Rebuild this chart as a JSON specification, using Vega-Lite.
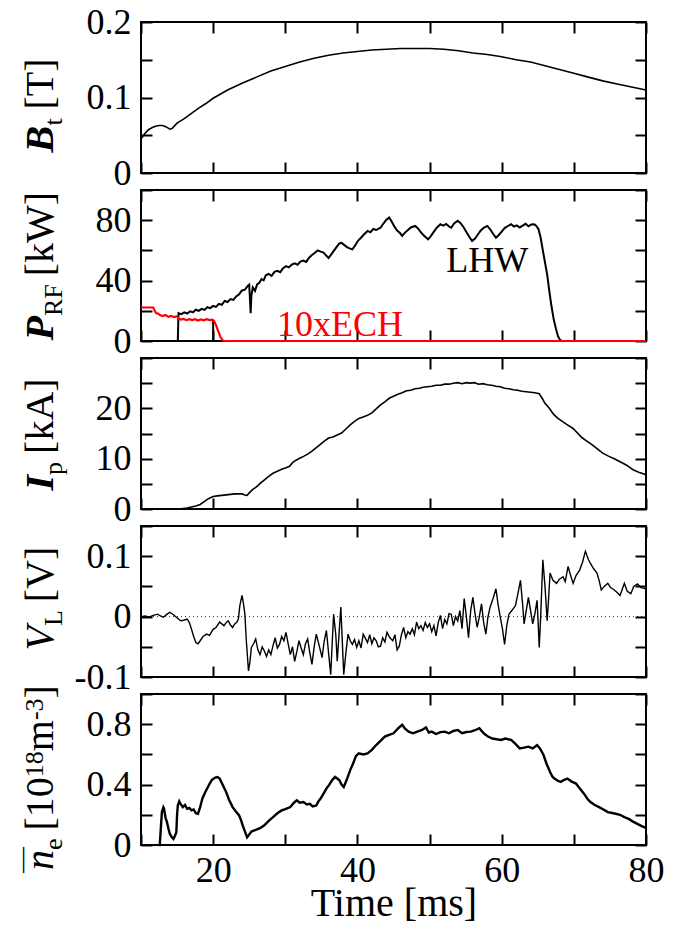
{
  "$schema": "https://vega.github.io/schema/vega-lite/v6.json",
  "padding": {"left": 7, "top": 3, "right": 5, "bottom": 5},
  "spacing": 17,
  "bounds": "flush",
  "datasets": {
    "bt": [{"t":10,"v":0.045},{"t":10.5,"v":0.052},{"t":11,"v":0.057},{"t":11.5,"v":0.06},{"t":12,"v":0.062},{"t":12.5,"v":0.063},{"t":13,"v":0.063},{"t":13.5,"v":0.061},{"t":14,"v":0.058},{"t":14.3,"v":0.059},{"t":15,"v":0.066},{"t":16,"v":0.072},{"t":17,"v":0.079},{"t":18,"v":0.086},{"t":19,"v":0.092},{"t":20,"v":0.099},{"t":22,"v":0.11},{"t":24,"v":0.119},{"t":26,"v":0.127},{"t":28,"v":0.135},{"t":30,"v":0.141},{"t":32,"v":0.147},{"t":34,"v":0.152},{"t":36,"v":0.156},{"t":38,"v":0.159},{"t":40,"v":0.161},{"t":42,"v":0.163},{"t":44,"v":0.164},{"t":46,"v":0.165},{"t":48,"v":0.165},{"t":50,"v":0.165},{"t":52,"v":0.164},{"t":54,"v":0.162},{"t":56,"v":0.159},{"t":58,"v":0.157},{"t":60,"v":0.154},{"t":62,"v":0.15},{"t":64,"v":0.147},{"t":66,"v":0.142},{"t":68,"v":0.137},{"t":70,"v":0.132},{"t":72,"v":0.127},{"t":74,"v":0.122},{"t":76,"v":0.118},{"t":78,"v":0.114},{"t":80,"v":0.11}],
    "lhw": [{"s":"LHW","t":10,"v":0},{"s":"LHW","t":15.1,"v":0},{"s":"LHW","t":15.2,"v":18.4},{"s":"LHW","t":15.6,"v":17.8},{"s":"LHW","t":16,"v":19},{"s":"LHW","t":16.4,"v":18.2},{"s":"LHW","t":16.8,"v":19.6},{"s":"LHW","t":17.2,"v":19},{"s":"LHW","t":17.6,"v":20.7},{"s":"LHW","t":18,"v":20},{"s":"LHW","t":18.4,"v":21.3},{"s":"LHW","t":18.8,"v":20.6},{"s":"LHW","t":19.2,"v":22.4},{"s":"LHW","t":19.6,"v":21.8},{"s":"LHW","t":20,"v":23.2},{"s":"LHW","t":20.4,"v":22.6},{"s":"LHW","t":20.8,"v":24.6},{"s":"LHW","t":21.2,"v":24},{"s":"LHW","t":21.6,"v":26.5},{"s":"LHW","t":22,"v":25.8},{"s":"LHW","t":22.4,"v":27.8},{"s":"LHW","t":22.8,"v":27.2},{"s":"LHW","t":23.2,"v":29.5},{"s":"LHW","t":23.6,"v":31},{"s":"LHW","t":24,"v":33.5},{"s":"LHW","t":24.4,"v":34},{"s":"LHW","t":24.8,"v":36.5},{"s":"LHW","t":25,"v":37.3},{"s":"LHW","t":25.1,"v":28},{"s":"LHW","t":25.2,"v":18.4},{"s":"LHW","t":25.3,"v":30},{"s":"LHW","t":25.5,"v":35.5},{"s":"LHW","t":25.8,"v":33.2},{"s":"LHW","t":26.1,"v":37.5},{"s":"LHW","t":26.4,"v":38.6},{"s":"LHW","t":26.7,"v":41},{"s":"LHW","t":27,"v":40.2},{"s":"LHW","t":27.3,"v":43.5},{"s":"LHW","t":27.7,"v":44.5},{"s":"LHW","t":28.1,"v":43.2},{"s":"LHW","t":28.5,"v":45.8},{"s":"LHW","t":28.9,"v":46.5},{"s":"LHW","t":29.3,"v":45.6},{"s":"LHW","t":29.7,"v":48.2},{"s":"LHW","t":30.1,"v":49.6},{"s":"LHW","t":30.5,"v":48.8},{"s":"LHW","t":30.9,"v":50.6},{"s":"LHW","t":31.3,"v":51.4},{"s":"LHW","t":31.7,"v":50.5},{"s":"LHW","t":32.1,"v":52.6},{"s":"LHW","t":32.5,"v":53.3},{"s":"LHW","t":32.9,"v":52.4},{"s":"LHW","t":33.3,"v":55.2},{"s":"LHW","t":33.7,"v":57},{"s":"LHW","t":34.1,"v":58.4},{"s":"LHW","t":34.5,"v":60},{"s":"LHW","t":34.9,"v":59.2},{"s":"LHW","t":35.3,"v":58.6},{"s":"LHW","t":35.7,"v":56.4},{"s":"LHW","t":36,"v":55},{"s":"LHW","t":36.4,"v":57.5},{"s":"LHW","t":36.8,"v":60.2},{"s":"LHW","t":37.2,"v":62.8},{"s":"LHW","t":37.5,"v":64.6},{"s":"LHW","t":37.8,"v":65},{"s":"LHW","t":38.2,"v":63.5},{"s":"LHW","t":38.6,"v":62},{"s":"LHW","t":39,"v":61.2},{"s":"LHW","t":39.3,"v":60.7},{"s":"LHW","t":39.7,"v":63.4},{"s":"LHW","t":40.1,"v":66.5},{"s":"LHW","t":40.5,"v":68.4},{"s":"LHW","t":40.9,"v":70.5},{"s":"LHW","t":41.4,"v":72.9},{"s":"LHW","t":41.8,"v":72},{"s":"LHW","t":42.2,"v":74.2},{"s":"LHW","t":42.6,"v":73.5},{"s":"LHW","t":43.2,"v":75},{"s":"LHW","t":43.6,"v":77.8},{"s":"LHW","t":44,"v":80.2},{"s":"LHW","t":44.4,"v":81.8},{"s":"LHW","t":44.7,"v":79.5},{"s":"LHW","t":45.1,"v":76},{"s":"LHW","t":45.5,"v":73.2},{"s":"LHW","t":45.9,"v":71.5},{"s":"LHW","t":46.2,"v":69.6},{"s":"LHW","t":46.6,"v":71.8},{"s":"LHW","t":47,"v":73.5},{"s":"LHW","t":47.4,"v":75.2},{"s":"LHW","t":48,"v":76.2},{"s":"LHW","t":48.4,"v":74.5},{"s":"LHW","t":48.8,"v":72},{"s":"LHW","t":49.2,"v":69.8},{"s":"LHW","t":49.8,"v":67.3},{"s":"LHW","t":50.2,"v":69.6},{"s":"LHW","t":50.6,"v":72.4},{"s":"LHW","t":51,"v":75},{"s":"LHW","t":51.5,"v":77.3},{"s":"LHW","t":51.9,"v":76.4},{"s":"LHW","t":52.3,"v":77.5},{"s":"LHW","t":52.7,"v":75.8},{"s":"LHW","t":53,"v":75},{"s":"LHW","t":53.4,"v":77.8},{"s":"LHW","t":53.9,"v":79.6},{"s":"LHW","t":54.3,"v":78},{"s":"LHW","t":54.7,"v":75.5},{"s":"LHW","t":55.1,"v":72.2},{"s":"LHW","t":55.5,"v":69},{"s":"LHW","t":55.9,"v":66.2},{"s":"LHW","t":56.3,"v":67.8},{"s":"LHW","t":56.7,"v":70.5},{"s":"LHW","t":57.1,"v":73.2},{"s":"LHW","t":57.5,"v":75},{"s":"LHW","t":58,"v":76.2},{"s":"LHW","t":58.4,"v":74},{"s":"LHW","t":58.8,"v":71},{"s":"LHW","t":59.2,"v":68.4},{"s":"LHW","t":59.6,"v":70.2},{"s":"LHW","t":60,"v":72.5},{"s":"LHW","t":60.4,"v":74.8},{"s":"LHW","t":60.8,"v":76},{"s":"LHW","t":61.3,"v":77.3},{"s":"LHW","t":61.7,"v":75.8},{"s":"LHW","t":62.1,"v":76.6},{"s":"LHW","t":62.5,"v":75.2},{"s":"LHW","t":62.9,"v":76.4},{"s":"LHW","t":63.3,"v":77.6},{"s":"LHW","t":63.7,"v":76},{"s":"LHW","t":64.1,"v":77.2},{"s":"LHW","t":64.5,"v":77.3},{"s":"LHW","t":64.8,"v":76.2},{"s":"LHW","t":65.1,"v":74},{"s":"LHW","t":65.4,"v":68.4},{"s":"LHW","t":65.7,"v":60},{"s":"LHW","t":66,"v":52},{"s":"LHW","t":66.3,"v":44},{"s":"LHW","t":66.6,"v":33},{"s":"LHW","t":66.9,"v":23},{"s":"LHW","t":67.2,"v":14.5},{"s":"LHW","t":67.5,"v":8.4},{"s":"LHW","t":67.8,"v":3.2},{"s":"LHW","t":68.1,"v":0.5},{"s":"LHW","t":68.4,"v":0},{"s":"LHW","t":80,"v":0},{"s":"edge","t":20,"v":0},{"s":"edge","t":20,"v":13.8}],
    "ech": [{"t":10,"v":22.2},{"t":11.7,"v":22.2},{"t":11.9,"v":20},{"t":12.1,"v":18.5},{"t":12.4,"v":18},{"t":12.7,"v":17},{"t":13,"v":16.5},{"t":13.4,"v":17.2},{"t":13.8,"v":16},{"t":14.2,"v":16.6},{"t":14.6,"v":15.8},{"t":15,"v":16.4},{"t":15.2,"v":15},{"t":15.5,"v":14.2},{"t":15.9,"v":14.6},{"t":16.3,"v":13.8},{"t":16.7,"v":14.5},{"t":17.1,"v":13.9},{"t":17.5,"v":14.4},{"t":17.9,"v":13.6},{"t":18.3,"v":14.3},{"t":18.7,"v":13.7},{"t":19.1,"v":14.4},{"t":19.5,"v":13.8},{"t":19.9,"v":14.2},{"t":20.1,"v":13.5},{"t":20.4,"v":10.5},{"t":20.7,"v":6.5},{"t":21,"v":2.8},{"t":21.3,"v":0.5},{"t":21.5,"v":0},{"t":80,"v":0}],
    "ip": [{"t":10,"v":0},{"t":15.2,"v":0},{"t":15.8,"v":0.1},{"t":16.4,"v":0.2},{"t":17,"v":0.4},{"t":17.6,"v":0.6},{"t":18.2,"v":0.9},{"t":18.8,"v":1.5},{"t":19.4,"v":2.1},{"t":20,"v":2.5},{"t":20.6,"v":2.6},{"t":21.2,"v":2.7},{"t":21.8,"v":2.8},{"t":22.4,"v":2.9},{"t":23,"v":3},{"t":23.6,"v":3},{"t":24,"v":3},{"t":24.4,"v":2.8},{"t":24.7,"v":2.7},{"t":25,"v":3.2},{"t":25.5,"v":3.9},{"t":26,"v":4.4},{"t":26.6,"v":5.2},{"t":27.2,"v":5.9},{"t":27.7,"v":6.5},{"t":28.3,"v":7.1},{"t":28.9,"v":7.5},{"t":29.5,"v":7.9},{"t":30.1,"v":8.2},{"t":30.6,"v":8.5},{"t":31,"v":9.2},{"t":31.5,"v":9.7},{"t":32,"v":10.1},{"t":32.6,"v":10.5},{"t":33.2,"v":11},{"t":33.7,"v":11.5},{"t":34.3,"v":12.2},{"t":34.9,"v":12.9},{"t":35.5,"v":13.6},{"t":36,"v":14.1},{"t":36.6,"v":14.3},{"t":37.2,"v":14.7},{"t":37.8,"v":15.1},{"t":38.4,"v":15.9},{"t":39,"v":16.7},{"t":39.6,"v":17.4},{"t":40.2,"v":18},{"t":40.8,"v":18.3},{"t":41.4,"v":18.6},{"t":42,"v":19.1},{"t":42.6,"v":19.9},{"t":43.2,"v":20.7},{"t":43.8,"v":21.3},{"t":44.4,"v":22},{"t":45,"v":22.4},{"t":45.6,"v":22.8},{"t":46.2,"v":23.1},{"t":46.8,"v":23.5},{"t":47.4,"v":23.6},{"t":48,"v":23.9},{"t":48.6,"v":24},{"t":49.1,"v":24.2},{"t":49.7,"v":24.3},{"t":50.3,"v":24.4},{"t":50.9,"v":24.6},{"t":51.5,"v":24.6},{"t":52.1,"v":24.8},{"t":52.7,"v":24.8},{"t":53.3,"v":25},{"t":53.9,"v":25.1},{"t":54.5,"v":24.9},{"t":55.1,"v":25.1},{"t":55.6,"v":25},{"t":56.2,"v":25.1},{"t":56.8,"v":24.8},{"t":57.4,"v":24.9},{"t":58,"v":24.7},{"t":58.6,"v":24.6},{"t":59.2,"v":24.4},{"t":59.8,"v":24.3},{"t":60.4,"v":24},{"t":61,"v":23.9},{"t":61.6,"v":23.7},{"t":62.2,"v":23.6},{"t":62.8,"v":23.4},{"t":63.4,"v":23.3},{"t":64,"v":23.2},{"t":64.6,"v":23.1},{"t":65.2,"v":22.9},{"t":65.6,"v":22},{"t":66,"v":21},{"t":66.6,"v":20},{"t":67.2,"v":18.8},{"t":67.8,"v":18},{"t":68.4,"v":17.4},{"t":69,"v":16.8},{"t":69.9,"v":16},{"t":70.5,"v":15.1},{"t":71.1,"v":14.2},{"t":71.9,"v":13.4},{"t":72.6,"v":12.7},{"t":73.3,"v":11.9},{"t":74,"v":11.1},{"t":74.8,"v":10.5},{"t":75.6,"v":10},{"t":76.4,"v":9.4},{"t":77.2,"v":8.8},{"t":78.2,"v":7.8},{"t":79,"v":7.3},{"t":80,"v":6.8}],
    "vl": [{"t":10,"v":0},{"t":10.6,"v":0.001},{"t":11.1,"v":-0.001},{"t":11.7,"v":0.002},{"t":12.3,"v":0.004},{"t":12.7,"v":0.001},{"t":13.1,"v":-0.001},{"t":13.6,"v":0.004},{"t":14,"v":0.007},{"t":14.5,"v":0.003},{"t":14.9,"v":-0.001},{"t":15.2,"v":-0.004},{"t":15.5,"v":-0.007},{"t":15.9,"v":-0.006},{"t":16.4,"v":-0.004},{"t":16.7,"v":-0.01},{"t":17,"v":-0.021},{"t":17.3,"v":-0.033},{"t":17.6,"v":-0.043},{"t":17.9,"v":-0.045},{"t":18.2,"v":-0.04},{"t":18.6,"v":-0.033},{"t":19.1,"v":-0.029},{"t":19.5,"v":-0.031},{"t":20,"v":-0.021},{"t":20.4,"v":-0.018},{"t":20.9,"v":-0.009},{"t":21.2,"v":-0.012},{"t":21.5,"v":-0.015},{"t":21.8,"v":-0.01},{"t":22.1,"v":-0.007},{"t":22.4,"v":-0.014},{"t":22.7,"v":-0.018},{"t":23,"v":-0.012},{"t":23.3,"v":-0.009},{"t":23.5,"v":-0.004},{"t":23.7,"v":0.018},{"t":24,"v":0.035},{"t":24.2,"v":0.022},{"t":24.4,"v":0.004},{"t":24.6,"v":-0.04},{"t":24.9,"v":-0.09},{"t":25.1,"v":-0.075},{"t":25.3,"v":-0.051},{"t":25.6,"v":-0.045},{"t":25.9,"v":-0.037},{"t":26.2,"v":-0.055},{"t":26.5,"v":-0.063},{"t":26.8,"v":-0.05},{"t":27.1,"v":-0.057},{"t":27.4,"v":-0.066},{"t":27.7,"v":-0.055},{"t":28,"v":-0.063},{"t":28.3,"v":-0.048},{"t":28.6,"v":-0.035},{"t":28.9,"v":-0.052},{"t":29.2,"v":-0.046},{"t":29.5,"v":-0.033},{"t":29.8,"v":-0.04},{"t":30.1,"v":-0.026},{"t":30.4,"v":-0.045},{"t":30.7,"v":-0.063},{"t":31,"v":-0.05},{"t":31.3,"v":-0.074},{"t":31.6,"v":-0.058},{"t":31.9,"v":-0.04},{"t":32.2,"v":-0.052},{"t":32.5,"v":-0.063},{"t":32.8,"v":-0.045},{"t":33.1,"v":-0.037},{"t":33.4,"v":-0.06},{"t":33.7,"v":-0.079},{"t":34,"v":-0.05},{"t":34.3,"v":-0.029},{"t":34.7,"v":-0.048},{"t":35.1,"v":-0.068},{"t":35.4,"v":-0.04},{"t":35.7,"v":-0.023},{"t":36,"v":-0.06},{"t":36.3,"v":-0.096},{"t":36.5,"v":-0.045},{"t":36.7,"v":0.004},{"t":37,"v":-0.03},{"t":37.2,"v":-0.074},{"t":37.5,"v":-0.02},{"t":37.7,"v":0.016},{"t":37.9,"v":-0.04},{"t":38.1,"v":-0.096},{"t":38.4,"v":-0.06},{"t":38.7,"v":-0.029},{"t":39,"v":-0.04},{"t":39.3,"v":-0.046},{"t":39.6,"v":-0.038},{"t":39.9,"v":-0.051},{"t":40.2,"v":-0.04},{"t":40.5,"v":-0.052},{"t":40.8,"v":-0.029},{"t":41.1,"v":-0.036},{"t":41.4,"v":-0.043},{"t":41.7,"v":-0.03},{"t":42,"v":-0.045},{"t":42.3,"v":-0.035},{"t":42.6,"v":-0.04},{"t":42.9,"v":-0.05},{"t":43.2,"v":-0.049},{"t":43.5,"v":-0.035},{"t":43.8,"v":-0.042},{"t":44.1,"v":-0.026},{"t":44.5,"v":-0.035},{"t":44.9,"v":-0.04},{"t":45.2,"v":-0.03},{"t":45.5,"v":-0.055},{"t":45.8,"v":-0.049},{"t":46.1,"v":-0.03},{"t":46.4,"v":-0.018},{"t":46.7,"v":-0.035},{"t":47,"v":-0.025},{"t":47.3,"v":-0.029},{"t":47.6,"v":-0.02},{"t":47.9,"v":-0.03},{"t":48.2,"v":-0.009},{"t":48.5,"v":-0.02},{"t":48.8,"v":-0.015},{"t":49.1,"v":-0.023},{"t":49.4,"v":-0.01},{"t":49.7,"v":-0.018},{"t":50,"v":-0.012},{"t":50.3,"v":-0.025},{"t":50.6,"v":-0.015},{"t":50.9,"v":-0.032},{"t":51.2,"v":-0.01},{"t":51.5,"v":0.002},{"t":51.8,"v":-0.02},{"t":52.1,"v":-0.005},{"t":52.4,"v":-0.012},{"t":52.7,"v":0.005},{"t":53,"v":0.004},{"t":53.3,"v":-0.015},{"t":53.6,"v":0},{"t":53.9,"v":-0.007},{"t":54.2,"v":0.01},{"t":54.5,"v":-0.02},{"t":54.8,"v":0.03},{"t":55.1,"v":0},{"t":55.4,"v":-0.035},{"t":55.7,"v":0.01},{"t":56,"v":0.032},{"t":56.3,"v":0.005},{"t":56.6,"v":-0.018},{"t":56.9,"v":0},{"t":57.2,"v":0.021},{"t":57.5,"v":-0.01},{"t":57.8,"v":-0.029},{"t":58.1,"v":0},{"t":58.4,"v":0.016},{"t":58.8,"v":0.03},{"t":59.2,"v":0.046},{"t":59.5,"v":0.02},{"t":59.8,"v":-0.001},{"t":60.1,"v":-0.02},{"t":60.4,"v":-0.046},{"t":60.7,"v":-0.015},{"t":61,"v":0.004},{"t":61.4,"v":0.01},{"t":61.9,"v":0.018},{"t":62.2,"v":0.035},{"t":62.6,"v":0.06},{"t":62.9,"v":0.02},{"t":63.1,"v":-0.012},{"t":63.4,"v":0.01},{"t":63.7,"v":0.032},{"t":64,"v":0.01},{"t":64.3,"v":-0.012},{"t":64.6,"v":0.005},{"t":64.9,"v":0.027},{"t":65.05,"v":-0.01},{"t":65.2,"v":-0.051},{"t":65.4,"v":0},{"t":65.7,"v":0.094},{"t":66,"v":0.05},{"t":66.3,"v":-0.007},{"t":66.5,"v":0.03},{"t":66.7,"v":0.072},{"t":67.1,"v":0.06},{"t":67.6,"v":0.055},{"t":68,"v":0.062},{"t":68.5,"v":0.066},{"t":68.8,"v":0.058},{"t":69.2,"v":0.083},{"t":69.5,"v":0.07},{"t":69.9,"v":0.055},{"t":70.3,"v":0.068},{"t":70.8,"v":0.077},{"t":71.2,"v":0.09},{"t":71.6,"v":0.108},{"t":72,"v":0.095},{"t":72.3,"v":0.088},{"t":72.7,"v":0.08},{"t":73.2,"v":0.072},{"t":73.5,"v":0.06},{"t":73.8,"v":0.044},{"t":74.2,"v":0.05},{"t":74.7,"v":0.055},{"t":75.1,"v":0.048},{"t":75.6,"v":0.044},{"t":76,"v":0.04},{"t":76.4,"v":0.035},{"t":76.7,"v":0.045},{"t":77,"v":0.055},{"t":77.4,"v":0.042},{"t":77.9,"v":0.038},{"t":78.3,"v":0.05},{"t":78.8,"v":0.054},{"t":79.3,"v":0.048},{"t":80,"v":0.046}],
    "ne": [{"t":12.5,"v":0},{"t":12.6,"v":0},{"t":12.8,"v":0.15},{"t":12.9,"v":0.218},{"t":13.1,"v":0.25},{"t":13.2,"v":0.24},{"t":13.4,"v":0.18},{"t":13.6,"v":0.151},{"t":13.8,"v":0.11},{"t":14,"v":0.073},{"t":14.3,"v":0.05},{"t":14.5,"v":0.04},{"t":14.7,"v":0.06},{"t":14.9,"v":0.084},{"t":15,"v":0.2},{"t":15.1,"v":0.262},{"t":15.3,"v":0.289},{"t":15.5,"v":0.27},{"t":15.8,"v":0.251},{"t":16.1,"v":0.265},{"t":16.4,"v":0.24},{"t":16.7,"v":0.245},{"t":17,"v":0.229},{"t":17.3,"v":0.235},{"t":17.6,"v":0.21},{"t":17.9,"v":0.207},{"t":18.2,"v":0.25},{"t":18.5,"v":0.307},{"t":18.9,"v":0.35},{"t":19.4,"v":0.396},{"t":19.8,"v":0.43},{"t":20.3,"v":0.447},{"t":20.6,"v":0.45},{"t":20.9,"v":0.44},{"t":21.3,"v":0.4},{"t":21.8,"v":0.351},{"t":22.2,"v":0.3},{"t":22.7,"v":0.251},{"t":23.1,"v":0.225},{"t":23.6,"v":0.196},{"t":23.9,"v":0.16},{"t":24.1,"v":0.129},{"t":24.4,"v":0.09},{"t":24.7,"v":0.051},{"t":25,"v":0.07},{"t":25.3,"v":0.089},{"t":25.9,"v":0.1},{"t":26.5,"v":0.111},{"t":27.1,"v":0.13},{"t":27.7,"v":0.16},{"t":28.3,"v":0.184},{"t":28.9,"v":0.21},{"t":29.5,"v":0.229},{"t":30.1,"v":0.24},{"t":30.7,"v":0.251},{"t":31.2,"v":0.28},{"t":31.6,"v":0.296},{"t":32,"v":0.28},{"t":32.5,"v":0.284},{"t":33,"v":0.268},{"t":33.4,"v":0.273},{"t":33.8,"v":0.255},{"t":34.3,"v":0.262},{"t":34.6,"v":0.29},{"t":34.9,"v":0.307},{"t":35.3,"v":0.34},{"t":35.7,"v":0.373},{"t":36.1,"v":0.4},{"t":36.5,"v":0.43},{"t":36.9,"v":0.451},{"t":37.2,"v":0.44},{"t":37.5,"v":0.429},{"t":37.8,"v":0.4},{"t":38.1,"v":0.384},{"t":38.5,"v":0.43},{"t":39,"v":0.496},{"t":39.4,"v":0.54},{"t":39.8,"v":0.59},{"t":40.2,"v":0.607},{"t":40.8,"v":0.6},{"t":41.4,"v":0.607},{"t":42,"v":0.63},{"t":42.6,"v":0.662},{"t":43.2,"v":0.69},{"t":43.8,"v":0.718},{"t":44.4,"v":0.73},{"t":45,"v":0.74},{"t":45.6,"v":0.77},{"t":46.2,"v":0.796},{"t":46.6,"v":0.77},{"t":47.1,"v":0.751},{"t":47.7,"v":0.74},{"t":48.3,"v":0.751},{"t":48.9,"v":0.76},{"t":49.5,"v":0.778},{"t":49.9,"v":0.745},{"t":50.3,"v":0.751},{"t":50.9,"v":0.735},{"t":51.5,"v":0.748},{"t":52.1,"v":0.751},{"t":52.7,"v":0.74},{"t":53.3,"v":0.755},{"t":53.9,"v":0.762},{"t":54.5,"v":0.74},{"t":55.1,"v":0.748},{"t":55.7,"v":0.751},{"t":56.3,"v":0.76},{"t":56.9,"v":0.773},{"t":57.5,"v":0.74},{"t":58.1,"v":0.718},{"t":58.7,"v":0.705},{"t":59.3,"v":0.7},{"t":59.9,"v":0.696},{"t":60.5,"v":0.705},{"t":61.3,"v":0.696},{"t":61.9,"v":0.67},{"t":62.5,"v":0.64},{"t":63.1,"v":0.645},{"t":63.7,"v":0.651},{"t":64.3,"v":0.64},{"t":64.9,"v":0.662},{"t":65.3,"v":0.64},{"t":65.8,"v":0.596},{"t":66.2,"v":0.54},{"t":66.7,"v":0.484},{"t":67,"v":0.455},{"t":67.3,"v":0.44},{"t":67.8,"v":0.425},{"t":68.2,"v":0.418},{"t":68.6,"v":0.43},{"t":69.1,"v":0.44},{"t":69.7,"v":0.42},{"t":70.3,"v":0.407},{"t":70.8,"v":0.375},{"t":71.4,"v":0.34},{"t":71.9,"v":0.305},{"t":72.3,"v":0.284},{"t":72.9,"v":0.265},{"t":73.5,"v":0.251},{"t":74.1,"v":0.235},{"t":74.7,"v":0.218},{"t":75.5,"v":0.21},{"t":76.4,"v":0.2},{"t":77,"v":0.185},{"t":77.6,"v":0.173},{"t":78.2,"v":0.155},{"t":78.8,"v":0.14},{"t":79.4,"v":0.125},{"t":80,"v":0.113}]
  },
  "vconcat": [
    {
      "width": 505, "height": 151,
      "data": {"name": "bt"},
      "layer": [
        {"mark": {"type": "line", "color": "black", "strokeWidth": 1.6},
         "encoding": {
           "x": {"field": "t", "type": "quantitative", "scale": {"domain": [10, 80], "nice": false, "zero": false}, "axis": null},
           "y": {"field": "v", "type": "quantitative", "scale": {"domain": [0, 0.2], "nice": false, "zero": false},
                 "axis": {"orient": "left", "values": [0, 0.1, 0.2], "labelExpr": "format(datum.value, '~r')", "ticks": false, "tickSize": 0, "labelPadding": 10,
                          "title": "B", "titleFontStyle": "italic", "titleFontWeight": "bold", "titleX": -89, "titleY": 130}}}},
        {"mark": {"type": "point", "opacity": 0},
         "encoding": {
           "x": {"aggregate": "min", "field": "t", "type": "quantitative", "scale": {"domain": [10, 80], "nice": false, "zero": false},
                 "axis": {"orient": "bottom", "values": [10, 20, 30, 40, 50, 60, 70, 80], "labels": false, "tickSize": -11, "title": null}},
           "y": {"aggregate": "min", "field": "v", "type": "quantitative", "scale": {"domain": [0, 0.2], "nice": false, "zero": false},
                 "axis": {"orient": "left", "values": [0, 0.05, 0.1, 0.15, 0.2], "labels": false, "tickSize": -11,
                          "title": "t", "titleFontSize": 26, "titleX": -80, "titleY": 103}}}},
        {"mark": {"type": "point", "opacity": 0},
         "encoding": {
           "x": {"aggregate": "max", "field": "t", "type": "quantitative", "scale": {"domain": [10, 80], "nice": false, "zero": false},
                 "axis": {"orient": "top", "values": [10, 20, 30, 40, 50, 60, 70, 80], "labels": false, "tickSize": -11, "title": null}},
           "y": {"aggregate": "max", "field": "v", "type": "quantitative", "scale": {"domain": [0, 0.2], "nice": false, "zero": false},
                 "axis": {"orient": "right", "values": [0, 0.05, 0.1, 0.15, 0.2], "labels": false, "tickSize": -11, "title": null}}}},
        {"mark": {"type": "point", "opacity": 0},
         "encoding": {
           "y": {"aggregate": "min", "field": "v", "type": "quantitative", "scale": {"domain": [0, 0.2], "nice": false, "zero": false},
                 "axis": {"orient": "left", "labels": false, "ticks": false, "title": "[T]", "titleX": -89, "titleY": 87}}}}
      ],
      "resolve": {"axis": {"x": "independent", "y": "independent"}}
    },
    {
      "width": 505, "height": 151,
      "layer": [
        {"data": {"name": "lhw"},
         "mark": {"type": "line", "color": "black", "strokeWidth": 2},
         "encoding": {
           "x": {"field": "t", "type": "quantitative", "scale": {"domain": [10, 80], "nice": false, "zero": false}, "axis": null},
           "y": {"field": "v", "type": "quantitative", "scale": {"domain": [0, 100], "nice": false, "zero": false},
                 "axis": {"orient": "left", "values": [0, 40, 80], "labelExpr": "format(datum.value, '~r')", "ticks": false, "tickSize": 0, "labelPadding": 10,
                          "title": "P", "titleFontStyle": "italic", "titleFontWeight": "bold", "titleX": -89, "titleY": 150}},
           "detail": {"field": "s", "type": "nominal"}}},
        {"data": {"name": "ech"},
         "mark": {"type": "line", "color": "#ff0000", "strokeWidth": 2.2},
         "encoding": {
           "x": {"field": "t", "type": "quantitative", "scale": {"domain": [10, 80], "nice": false, "zero": false}, "axis": null},
           "y": {"field": "v", "type": "quantitative", "scale": {"domain": [0, 100], "nice": false, "zero": false}, "axis": null}}},
        {"data": {"name": "lhw"},
         "mark": {"type": "point", "opacity": 0},
         "encoding": {
           "x": {"aggregate": "min", "field": "t", "type": "quantitative", "scale": {"domain": [10, 80], "nice": false, "zero": false},
                 "axis": {"orient": "bottom", "values": [10, 20, 30, 40, 50, 60, 70, 80], "labels": false, "tickSize": -11, "title": null}},
           "y": {"aggregate": "min", "field": "v", "type": "quantitative", "scale": {"domain": [0, 100], "nice": false, "zero": false},
                 "axis": {"orient": "left", "values": [0, 20, 40, 60, 80, 100], "labels": false, "tickSize": -11,
                          "title": "RF", "titleFontSize": 26, "titleX": -80, "titleY": 125.6}}}},
        {"data": {"name": "lhw"},
         "mark": {"type": "point", "opacity": 0},
         "encoding": {
           "x": {"aggregate": "max", "field": "t", "type": "quantitative", "scale": {"domain": [10, 80], "nice": false, "zero": false},
                 "axis": {"orient": "top", "values": [10, 20, 30, 40, 50, 60, 70, 80], "labels": false, "tickSize": -11, "title": null}},
           "y": {"aggregate": "max", "field": "v", "type": "quantitative", "scale": {"domain": [0, 100], "nice": false, "zero": false},
                 "axis": {"orient": "right", "values": [0, 20, 40, 60, 80, 100], "labels": false, "tickSize": -11, "title": null}}}},
        {"data": {"name": "lhw"},
         "mark": {"type": "point", "opacity": 0},
         "encoding": {
           "y": {"aggregate": "min", "field": "v", "type": "quantitative", "scale": {"domain": [0, 100], "nice": false, "zero": false},
                 "axis": {"orient": "left", "labels": false, "ticks": false, "title": "[kW]", "titleX": -89, "titleY": 85.8}}}},
        {"data": {"values": [{}]},
         "mark": {"type": "text", "text": "LHW", "font": "Liberation Serif", "fontSize": 36, "color": "black", "align": "center", "baseline": "middle"},
         "encoding": {
           "x": {"datum": 58, "type": "quantitative", "scale": {"domain": [10, 80], "nice": false, "zero": false}, "axis": null},
           "y": {"datum": 53, "type": "quantitative", "scale": {"domain": [0, 100], "nice": false, "zero": false}, "axis": null}}},
        {"data": {"values": [{}]},
         "mark": {"type": "text", "text": "10xECH", "font": "Liberation Serif", "fontSize": 36, "color": "#ff0000", "align": "center", "baseline": "middle"},
         "encoding": {
           "x": {"datum": 37.6, "type": "quantitative", "scale": {"domain": [10, 80], "nice": false, "zero": false}, "axis": null},
           "y": {"datum": 10.7, "type": "quantitative", "scale": {"domain": [0, 100], "nice": false, "zero": false}, "axis": null}}}
      ],
      "resolve": {"axis": {"x": "independent", "y": "independent"}}
    },
    {
      "width": 505, "height": 151,
      "data": {"name": "ip"},
      "layer": [
        {"mark": {"type": "line", "color": "black", "strokeWidth": 1.6},
         "encoding": {
           "x": {"field": "t", "type": "quantitative", "scale": {"domain": [10, 80], "nice": false, "zero": false}, "axis": null},
           "y": {"field": "v", "type": "quantitative", "scale": {"domain": [0, 30], "nice": false, "zero": false},
                 "axis": {"orient": "left", "values": [0, 10, 20], "labelExpr": "format(datum.value, '~r')", "ticks": false, "tickSize": 0, "labelPadding": 10,
                          "title": "I", "titleFontStyle": "italic", "titleFontWeight": "bold", "titleX": -89, "titleY": 132}}}},
        {"mark": {"type": "point", "opacity": 0},
         "encoding": {
           "x": {"aggregate": "min", "field": "t", "type": "quantitative", "scale": {"domain": [10, 80], "nice": false, "zero": false},
                 "axis": {"orient": "bottom", "values": [10, 20, 30, 40, 50, 60, 70, 80], "labels": false, "tickSize": -11, "title": null}},
           "y": {"aggregate": "min", "field": "v", "type": "quantitative", "scale": {"domain": [0, 30], "nice": false, "zero": false},
                 "axis": {"orient": "left", "values": [0, 5, 10, 15, 20, 25, 30], "labels": false, "tickSize": -11,
                          "title": "p", "titleFontSize": 26, "titleX": -80, "titleY": 116.4}}}},
        {"mark": {"type": "point", "opacity": 0},
         "encoding": {
           "x": {"aggregate": "max", "field": "t", "type": "quantitative", "scale": {"domain": [10, 80], "nice": false, "zero": false},
                 "axis": {"orient": "top", "values": [10, 20, 30, 40, 50, 60, 70, 80], "labels": false, "tickSize": -11, "title": null}},
           "y": {"aggregate": "max", "field": "v", "type": "quantitative", "scale": {"domain": [0, 30], "nice": false, "zero": false},
                 "axis": {"orient": "right", "values": [0, 5, 10, 15, 20, 25, 30], "labels": false, "tickSize": -11, "title": null}}}},
        {"mark": {"type": "point", "opacity": 0},
         "encoding": {
           "y": {"aggregate": "min", "field": "v", "type": "quantitative", "scale": {"domain": [0, 30], "nice": false, "zero": false},
                 "axis": {"orient": "left", "labels": false, "ticks": false, "title": "[kA]", "titleX": -89, "titleY": 95.4}}}}
      ],
      "resolve": {"axis": {"x": "independent", "y": "independent"}}
    },
    {
      "width": 505, "height": 151,
      "data": {"name": "vl"},
      "layer": [
        {"data": {"values": [{}]},
         "mark": {"type": "rule", "color": "black", "strokeWidth": 0.8, "strokeDash": [1, 3]},
         "encoding": {
           "y": {"datum": 0, "type": "quantitative", "scale": {"domain": [-0.1, 0.15], "nice": false, "zero": false}, "axis": null}}},
        {"mark": {"type": "line", "color": "black", "strokeWidth": 1.4},
         "encoding": {
           "x": {"field": "t", "type": "quantitative", "scale": {"domain": [10, 80], "nice": false, "zero": false}, "axis": null},
           "y": {"field": "v", "type": "quantitative", "scale": {"domain": [-0.1, 0.15], "nice": false, "zero": false},
                 "axis": {"orient": "left", "values": [-0.1, 0, 0.1], "labelExpr": "datum.value < 0 ? '-' + format(-datum.value, '~r') : format(datum.value, '~r')",
                          "ticks": false, "tickSize": 0, "labelPadding": 10,
                          "title": "V", "titleFontStyle": "italic", "titleX": -89, "titleY": 124}}}},
        {"mark": {"type": "point", "opacity": 0},
         "encoding": {
           "x": {"aggregate": "min", "field": "t", "type": "quantitative", "scale": {"domain": [10, 80], "nice": false, "zero": false},
                 "axis": {"orient": "bottom", "values": [10, 20, 30, 40, 50, 60, 70, 80], "labels": false, "tickSize": -11, "title": null}},
           "y": {"aggregate": "min", "field": "v", "type": "quantitative", "scale": {"domain": [-0.1, 0.15], "nice": false, "zero": false},
                 "axis": {"orient": "left", "values": [-0.1, -0.05, 0, 0.05, 0.1, 0.15], "labels": false, "tickSize": -11,
                          "title": "L", "titleFontSize": 26, "titleX": -80, "titleY": 99.6}}}},
        {"mark": {"type": "point", "opacity": 0},
         "encoding": {
           "x": {"aggregate": "max", "field": "t", "type": "quantitative", "scale": {"domain": [10, 80], "nice": false, "zero": false},
                 "axis": {"orient": "top", "values": [10, 20, 30, 40, 50, 60, 70, 80], "labels": false, "tickSize": -11, "title": null}},
           "y": {"aggregate": "max", "field": "v", "type": "quantitative", "scale": {"domain": [-0.1, 0.15], "nice": false, "zero": false},
                 "axis": {"orient": "right", "values": [-0.1, -0.05, 0, 0.05, 0.1, 0.15], "labels": false, "tickSize": -11, "title": null}}}},
        {"mark": {"type": "point", "opacity": 0},
         "encoding": {
           "y": {"aggregate": "min", "field": "v", "type": "quantitative", "scale": {"domain": [-0.1, 0.15], "nice": false, "zero": false},
                 "axis": {"orient": "left", "labels": false, "ticks": false, "title": "[V]", "titleX": -89, "titleY": 75.7}}}}
      ],
      "resolve": {"axis": {"x": "independent", "y": "independent"}}
    },
    {
      "width": 505, "height": 151,
      "data": {"name": "ne"},
      "layer": [
        {"mark": {"type": "line", "color": "black", "strokeWidth": 2.4},
         "encoding": {
           "x": {"field": "t", "type": "quantitative", "scale": {"domain": [10, 80], "nice": false, "zero": false},
                 "axis": {"orient": "bottom", "values": [20, 40, 60, 80], "labelExpr": "format(datum.value, '~r')", "ticks": false, "tickSize": 0, "labelPadding": 8,
                          "title": "Time [ms]", "titleFontSize": 40, "titleX": 252.5, "titleY": 70, "titleAlign": "center", "titleBaseline": "alphabetic"}},
           "y": {"field": "v", "type": "quantitative", "scale": {"domain": [0, 1], "nice": false, "zero": false},
                 "axis": {"orient": "left", "values": [0, 0.4, 0.8], "labelExpr": "format(datum.value, '~r')", "ticks": false, "tickSize": 0, "labelPadding": 10,
                          "title": "n", "titleFontStyle": "italic", "titleX": -89, "titleY": 175.5}}}},
        {"mark": {"type": "point", "opacity": 0},
         "encoding": {
           "x": {"aggregate": "min", "field": "t", "type": "quantitative", "scale": {"domain": [10, 80], "nice": false, "zero": false},
                 "axis": {"orient": "bottom", "values": [10, 20, 30, 40, 50, 60, 70, 80], "labels": false, "tickSize": -11, "title": null}},
           "y": {"aggregate": "min", "field": "v", "type": "quantitative", "scale": {"domain": [0, 1], "nice": false, "zero": false},
                 "axis": {"orient": "left", "values": [0, 0.2, 0.4, 0.6, 0.8, 1], "labels": false, "tickSize": -11,
                          "title": "e", "titleFontSize": 26, "titleX": -80, "titleY": 155.5}}}},
        {"mark": {"type": "point", "opacity": 0},
         "encoding": {
           "x": {"aggregate": "max", "field": "t", "type": "quantitative", "scale": {"domain": [10, 80], "nice": false, "zero": false},
                 "axis": {"orient": "top", "values": [10, 20, 30, 40, 50, 60, 70, 80], "labels": false, "tickSize": -11, "title": null}},
           "y": {"aggregate": "max", "field": "v", "type": "quantitative", "scale": {"domain": [0, 1], "nice": false, "zero": false},
                 "axis": {"orient": "right", "values": [0, 0.2, 0.4, 0.6, 0.8, 1], "labels": false, "tickSize": -11, "title": null}}}},
        {"mark": {"type": "point", "opacity": 0},
         "encoding": {
           "y": {"aggregate": "min", "field": "v", "type": "quantitative", "scale": {"domain": [0, 1], "nice": false, "zero": false},
                 "axis": {"orient": "left", "labels": false, "ticks": false, "title": "—", "titleFontSize": 26, "titleX": -111.5, "titleY": 178.5}}}},
        {"mark": {"type": "point", "opacity": 0},
         "encoding": {
           "y": {"aggregate": "min", "field": "v", "type": "quantitative", "scale": {"domain": [0, 1], "nice": false, "zero": false},
                 "axis": {"orient": "left", "labels": false, "ticks": false, "title": "[10", "titleX": -89, "titleY": 136}}}},
        {"mark": {"type": "point", "opacity": 0},
         "encoding": {
           "y": {"aggregate": "min", "field": "v", "type": "quantitative", "scale": {"domain": [0, 1], "nice": false, "zero": false},
                 "axis": {"orient": "left", "labels": false, "ticks": false, "title": "18", "titleFontSize": 26, "titleX": -99, "titleY": 82.7}}}},
        {"mark": {"type": "point", "opacity": 0},
         "encoding": {
           "y": {"aggregate": "min", "field": "v", "type": "quantitative", "scale": {"domain": [0, 1], "nice": false, "zero": false},
                 "axis": {"orient": "left", "labels": false, "ticks": false, "title": "m", "titleX": -89, "titleY": 56.7}}}},
        {"mark": {"type": "point", "opacity": 0},
         "encoding": {
           "y": {"aggregate": "min", "field": "v", "type": "quantitative", "scale": {"domain": [0, 1], "nice": false, "zero": false},
                 "axis": {"orient": "left", "labels": false, "ticks": false, "title": "-3", "titleFontSize": 26, "titleX": -99, "titleY": 25.6}}}},
        {"mark": {"type": "point", "opacity": 0},
         "encoding": {
           "y": {"aggregate": "min", "field": "v", "type": "quantitative", "scale": {"domain": [0, 1], "nice": false, "zero": false},
                 "axis": {"orient": "left", "labels": false, "ticks": false, "title": "]", "titleX": -89, "titleY": 3.9}}}}
      ],
      "resolve": {"axis": {"x": "independent", "y": "independent"}}
    }
  ],
  "config": {
    "font": "Liberation Serif",
    "view": {"stroke": "black", "strokeWidth": 2},
    "axis": {"grid": false, "domain": false, "labelFont": "Liberation Serif", "labelFontSize": 36, "labelColor": "black",
             "labelFlush": false, "labelOverlap": false, "labelBound": false,
             "titleFont": "Liberation Serif", "titleFontSize": 40, "titleColor": "black", "titleFontWeight": "normal",
             "tickColor": "black", "tickWidth": 2},
    "axisY": {"titleAngle": 270, "titleAlign": "left", "titleBaseline": "alphabetic"}
  }
}
